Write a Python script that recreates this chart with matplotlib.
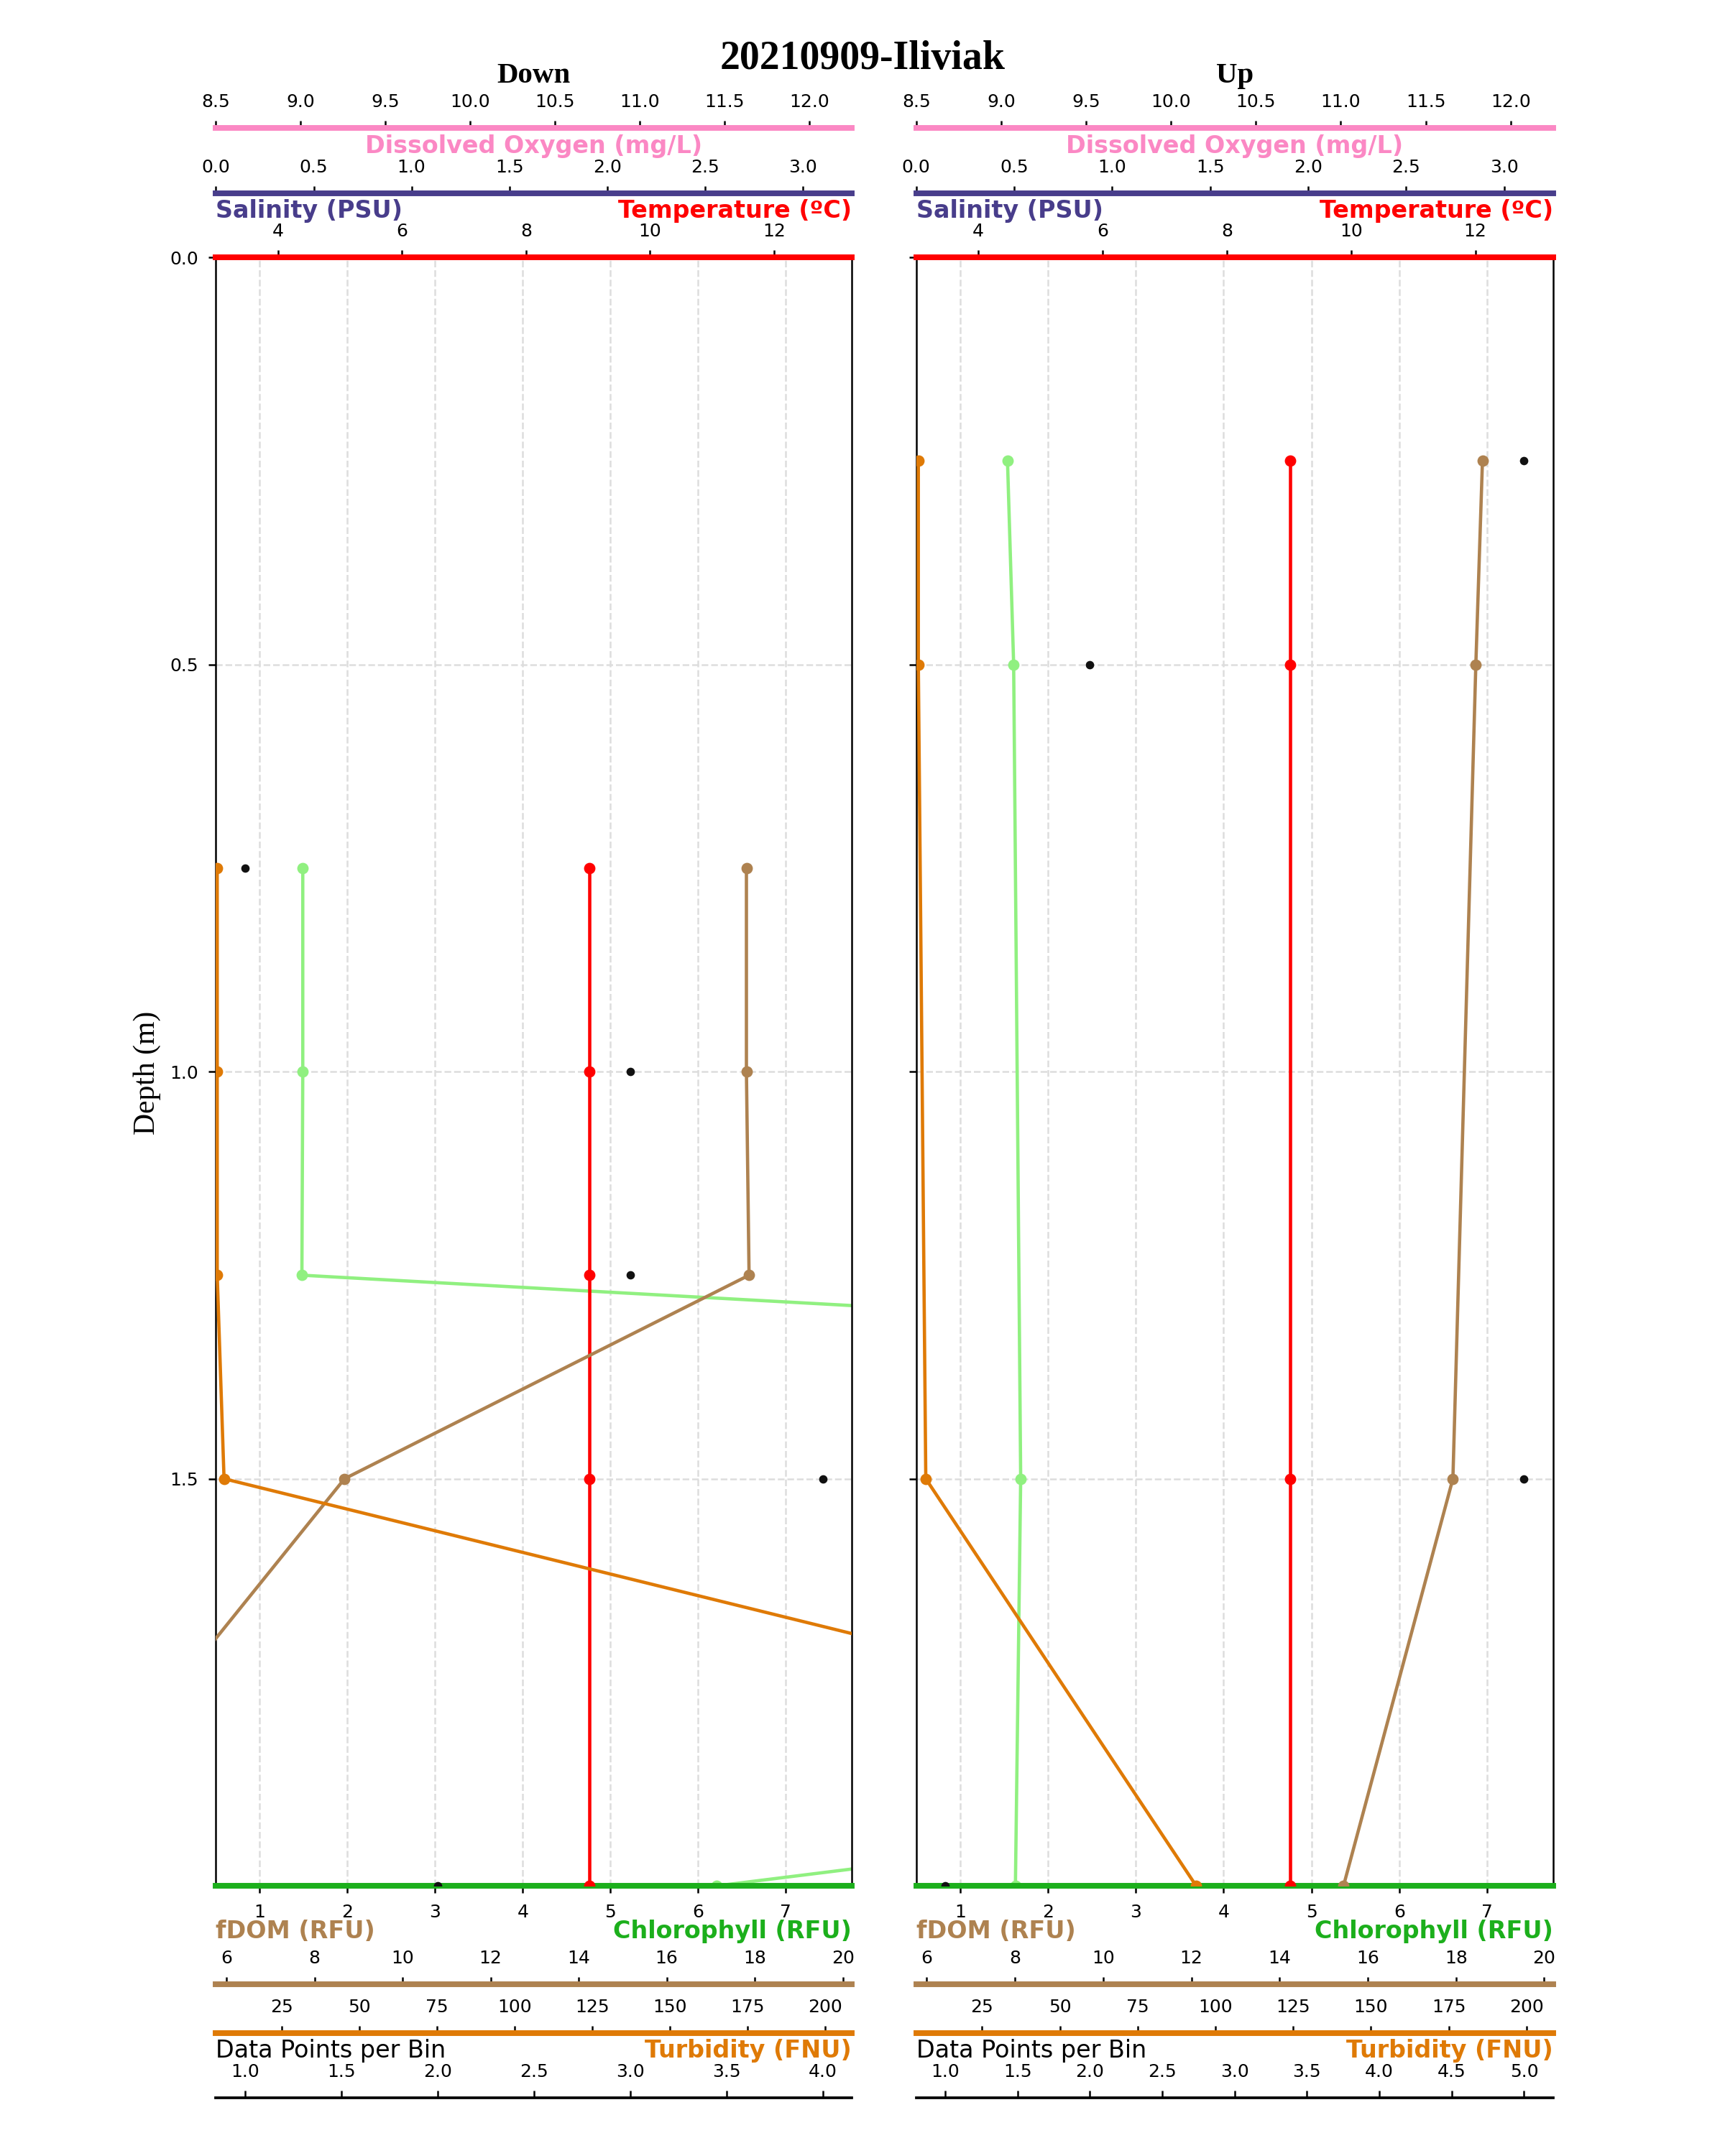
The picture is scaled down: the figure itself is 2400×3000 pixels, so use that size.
import numpy as np
import matplotlib
matplotlib.use("Agg")
import matplotlib.pyplot as plt
from matplotlib.ticker import MultipleLocator

# ---- data (binned profile, Down / Up casts) ----
down_depth = [0.75, 1.0, 1.25, 1.5, 2.0]
down_temp = [9.02, 9.02, 9.02, 9.02, 9.02]
down_chl = [1.49, 1.49, 1.48, 43.5, 6.21]
down_fdom = [17.81, 17.81, 17.87, 8.68, 1.23]
down_turb = [4.2, 4.2, 4.2, 6.4, 538.0]
down_npts = [1, 3, 3, 4, 2]

up_depth = [0.25, 0.5, 1.5, 2.0]
up_temp = [9.02, 9.02, 9.02, 9.02]
up_chl = [1.54, 1.61, 1.69, 1.63]
up_fdom = [18.60, 18.45, 17.93, 15.45]
up_turb = [4.5, 4.5, 6.9, 93.8]
up_npts = [5, 2, 5, 1]

title = "20210909-Iliviak"
panel_titles = ["Down", "Up"]

# colours
C_DO = "#fb88c4"
C_SAL = "#483d8b"
C_TEMP = "#ff0000"
C_CHL_AX = "#1caf1c"
C_CHL = "#90f080"
C_FDOM = "#ae8250"
C_TURB = "#df7a06"

TICK = dict(labelsize=6, length=2.4, width=0.6, pad=3.5)
LAB = dict(fontsize=8, fontweight="bold")
SERIF = "Liberation Serif"


def extra_axis(ax, color, pos, lim, step, lw=1.9):
    tw = ax.twiny()
    for s in ["left", "right", "bottom"]:
        tw.spines[s].set_visible(False)
    tw.spines["top"].set_position(("axes", pos))
    tw.spines["top"].set_color(color)
    tw.spines["top"].set_linewidth(lw)
    tw.xaxis.set_ticks_position("top")
    tw.set_xlim(*lim)
    tw.xaxis.set_major_locator(MultipleLocator(step))
    tw.tick_params(axis="x", **TICK)
    return tw


def make_panel(ax, depth, temp, chl, fdom, turb, npts, npts_lim, name, ylabels):
    # main axes: chlorophyll vs depth
    ax.set_ylim(2.0, 0.0)
    ax.set_yticks([0.0, 0.5, 1.0, 1.5])
    ax.set_xlim(0.5, 7.75)
    ax.xaxis.set_major_locator(MultipleLocator(1))
    ax.grid(True, linestyle="--", color="#dddddd", linewidth=0.6)
    ax.spines["top"].set_visible(False)
    ax.spines["bottom"].set_color(C_CHL_AX)
    ax.spines["bottom"].set_linewidth(1.9)
    for s in ["left", "right"]:
        ax.spines[s].set_linewidth(0.6)
    ax.tick_params(axis="both", **TICK)
    if not ylabels:
        ax.tick_params(axis="y", labelleft=False)

    ax_t = extra_axis(ax, C_TEMP, 1.0, (3.0, 13.25), 2)
    ax_s = extra_axis(ax, C_SAL, 1.0393, (0.0, 3.25), 0.5)
    ax_d = extra_axis(ax, C_DO, 1.0794, (8.5, 12.25), 0.5)
    ax_f = extra_axis(ax, C_FDOM, -0.0605, (5.76, 20.2), 2)
    ax_u = extra_axis(ax, C_TURB, -0.0905, (3.8, 208.5), 25)
    ax_n = extra_axis(ax, "black", -0.1302, (npts_lim[0], npts_lim[1]), 0.5, lw=0.9)

    ax.plot(chl, depth, "-o", color=C_CHL, lw=1.1, ms=2.8)
    ax_t.plot(temp, depth, "-o", color=C_TEMP, lw=1.1, ms=2.8)
    ax_f.plot(fdom, depth, "-o", color=C_FDOM, lw=1.1, ms=2.8)
    ax_u.plot(turb, depth, "-o", color=C_TURB, lw=1.1, ms=2.8)
    ax_n.plot(npts, depth, "o", color="#111111", ms=1.8, linestyle="none")

    tr = ax.transAxes
    ax.text(0.5, 1.0684, "Dissolved Oxygen (mg/L)", color=C_DO, ha="center",
            va="center", transform=tr, **LAB)
    ax.text(0.0, 1.0287, "Salinity (PSU)", color=C_SAL, ha="left",
            va="center", transform=tr, **LAB)
    ax.text(1.0, 1.0287, "Temperature (\u00baC)", color=C_TEMP, ha="right",
            va="center", transform=tr, **LAB)
    ax.text(0.0, -0.0282, "fDOM (RFU)", color=C_FDOM, ha="left",
            va="center", transform=tr, **LAB)
    ax.text(1.0, -0.0282, "Chlorophyll (RFU)", color=C_CHL_AX, ha="right",
            va="center", transform=tr, **LAB)
    ax.text(0.0, -0.1011, "Data Points per Bin", color="black", ha="left",
            va="center", transform=tr, fontsize=8)
    ax.text(1.0, -0.1011, "Turbidity (FNU)", color=C_TURB, ha="right",
            va="center", transform=tr, **LAB)
    ax.text(0.5, 1.1117, name, ha="center", va="center", transform=tr,
            family=SERIF, fontweight="bold", fontsize=9.8)


fig = plt.figure(figsize=(8, 10), dpi=300)
ax_l = fig.add_axes([0.1252, 0.1253, 0.3685, 0.7553])
ax_r = fig.add_axes([0.5311, 0.1253, 0.3692, 0.7553], sharey=ax_l)

make_panel(ax_l, down_depth, down_temp, down_chl, down_fdom, down_turb,
           down_npts, (0.85, 4.15), panel_titles[0], True)
make_panel(ax_r, up_depth, up_temp, up_chl, up_fdom, up_turb,
           up_npts, (0.8, 5.2), panel_titles[1], False)

fig.text(0.5, 0.9727, title, ha="center", va="center", family=SERIF,
         fontweight="bold", fontsize=13.4)
fig.text(0.0854, 0.5023, "Depth (m)", ha="center", va="center", rotation=90,
         family=SERIF, fontsize=10)

fig.savefig("out.png", dpi=300)
